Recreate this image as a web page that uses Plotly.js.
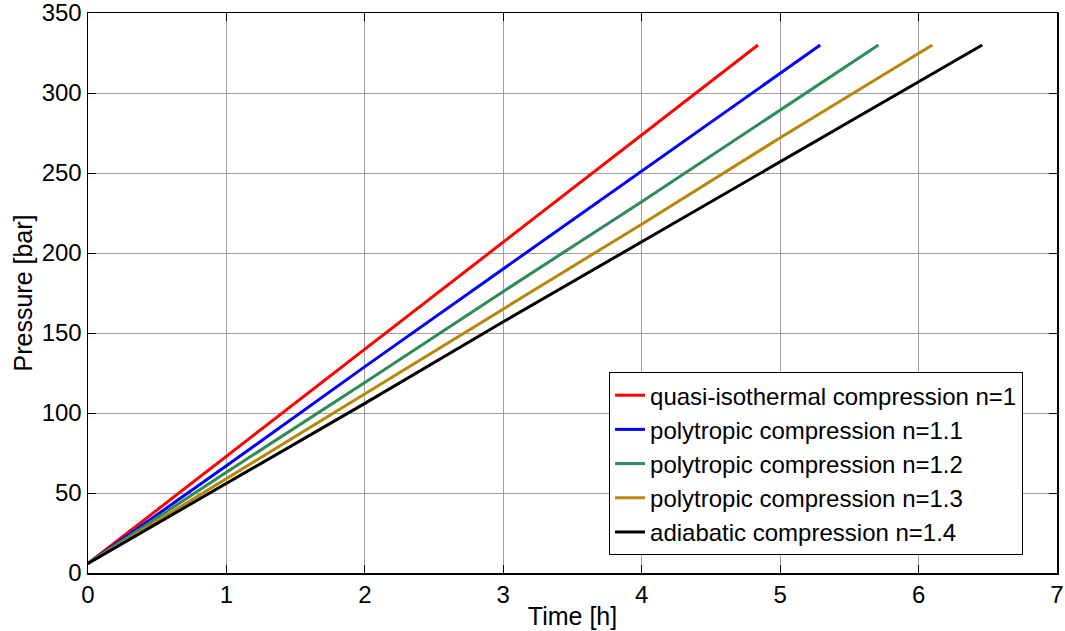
<!DOCTYPE html>
<html>
<head>
<meta charset="utf-8">
<script src="https://cdn.plot.ly/plotly-3.0.1.min.js"></script>
<style>html,body{margin:0;padding:0;background:#fff;}#chart{width:1065px;height:631px;}</style>
</head>
<body>
<div id="chart"></div>
<script>
// Time [h] and pressure [bar] readings for each compression law
const seriesNames = [
  "quasi-isothermal compression n=1",
  "polytropic compression n=1.1",
  "polytropic compression n=1.2",
  "polytropic compression n=1.3",
  "adiabatic compression n=1.4"
];
const timeIso  = [0, 1, 2, 3, 4, 4.84];
const presIso  = [6, 73, 140, 207, 274, 330];
const timeP11  = [0, 1, 2, 3, 4, 5, 5.29];
const presP11  = [6, 67, 129, 190, 251, 312, 330];
const timeP12  = [0, 1, 2, 3, 4, 5, 5.71];
const presP12  = [6, 63, 119, 176, 232, 289, 330];
const timeP13  = [0, 1, 2, 3, 4, 5, 6, 6.10];
const presP13  = [6, 59, 112, 165, 218, 272, 325, 330];
const timeAd   = [0, 1, 2, 3, 4, 5, 6, 6.46];
const presAd   = [6, 56, 106, 157, 207, 257, 307, 330];
const colors = ["#ff0000", "#0000ff", "#2e8b57", "#b8860b", "#000000"];
const xTicks = [0, 1, 2, 3, 4, 5, 6, 7];
const yTicks = [0, 50, 100, 150, 200, 250, 300, 350];

const xs = [timeIso, timeP11, timeP12, timeP13, timeAd];
const ys = [presIso, presP11, presP12, presP13, presAd];
const traces = xs.map((x, i) => ({
  x: x, y: ys[i], type: "scatter", mode: "lines", name: seriesNames[i],
  line: {color: colors[i], width: 3}
}));

const fam = "Liberation Sans, Arial, sans-serif";
const font = {family: fam, size: 24, color: "#000"};
const axisCommon = {
  showline: true, linecolor: "#000", linewidth: 1.5, mirror: "ticks",
  ticks: "inside", ticklen: 8, tickcolor: "#000", tickwidth: 1,
  showgrid: true, gridcolor: "#a0a0a0", gridwidth: 1, zeroline: false,
  tickfont: font, ticklabeloverflow: "allow"
};
const layout = {
  width: 1065, height: 631,
  margin: {l: 88, r: 8, t: 13, b: 58},
  paper_bgcolor: "#fff", plot_bgcolor: "#fff",
  font: font,
  showlegend: true,
  legend: {
    x: 0.5377, y: 0.032, xanchor: "left", yanchor: "bottom",
    bgcolor: "#fff", bordercolor: "#000", borderwidth: 1,
    font: {family: fam, size: 24, color: "#000"},
    itemwidth: 30, tracegroupgap: 0
  },
  xaxis: Object.assign({}, axisCommon, {
    range: [0, 7], tickvals: xTicks, ticktext: xTicks.map(String),
    title: {text: "Time [h]", font: {family: fam, size: 25}, standoff: 0}
  }),
  yaxis: Object.assign({}, axisCommon, {
    range: [0, 350], tickvals: yTicks, ticktext: yTicks.map(String),
    title: {text: "Pressure [bar]", font: {family: fam, size: 25}, standoff: 2}
  })
};
Plotly.newPlot("chart", traces, layout, {displayModeBar: false, staticPlot: true});
</script>
</body>
</html>
